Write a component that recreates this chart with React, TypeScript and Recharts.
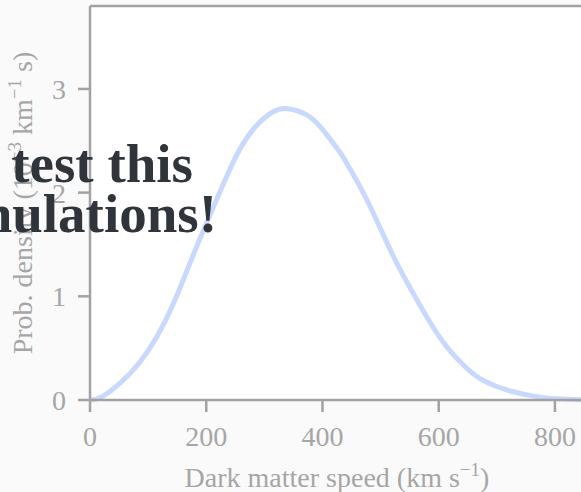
import { LineChart, Line, XAxis, YAxis, CartesianGrid, ReferenceLine } from 'recharts'

// speed in km/s, density in 10^-3 km^-1 s
const speeds = [0, 20, 55, 85, 115, 145, 172, 200, 230, 258, 287, 315, 340, 373, 400, 430, 441, 470, 500, 527, 556, 585, 613, 642, 670, 700, 728, 757, 785, 814, 850]
const density = [0, 0.03, 0.18, 0.36, 0.61, 0.95, 1.32, 1.7, 2.09, 2.42, 2.65, 2.78, 2.81, 2.75, 2.61, 2.39, 2.29, 2.0, 1.65, 1.33, 1.03, 0.75, 0.52, 0.34, 0.21, 0.13, 0.08, 0.045, 0.02, 0.01, 0]

const xTicks = [0, 200, 400, 600, 800]
const yTicks = [0, 1, 2, 3]
const yMax = 3.8

const data = speeds.map((s, i) => ({ speed: s, density: density[i] }))

const axisGray = '#a2a2a2'
const textGray = '#a6a6a6'
const serif = '"Liberation Serif", "Times New Roman", serif'

const XLabel = (props: any) => {
    const { x, y, width } = props.viewBox
    return (
        <text x={x + width / 2} y={y + 87} textAnchor="middle" fontFamily={serif} fontSize={28} fill={textGray}>
            Dark matter speed (km s<tspan dy={-11} fontSize={19}>−1</tspan><tspan dy={11}>)</tspan>
        </text>
    )
}

const YLabel = (props: any) => {
    const { y, height } = props.viewBox
    const cx = 32
    const cy = y + height / 2
    return (
        <text x={cx} y={cy} transform={`rotate(-90 ${cx} ${cy})`} textAnchor="middle" fontFamily={serif} fontSize={28} fill={textGray}>
            Prob. density (10<tspan dy={-11} fontSize={19}>−3</tspan>
            <tspan dy={11}> km</tspan><tspan dy={-11} fontSize={19}>−1</tspan>
            <tspan dy={11}> s)</tspan>
        </text>
    )
}

const App = () => {
    return (
        <div style={{ position: 'fixed', left: 0, top: 0, width: 581, height: 492, overflow: 'hidden', background: '#fafafa' }}>
            <LineChart width={590} height={492} data={data} margin={{ top: 6, right: 6, bottom: 0, left: 0 }}>
                <CartesianGrid horizontal={false} vertical={false} fill="#ffffff" />
                <XAxis
                    dataKey="speed"
                    type="number"
                    domain={[0, 850]}
                    ticks={xTicks}
                    height={92}
                    stroke={axisGray}
                    strokeWidth={2.5}
                    tickSize={12}
                    tickMargin={14}
                    tick={{ fill: textGray, fontSize: 28, fontFamily: serif }}
                    label={<XLabel />}
                />
                <YAxis
                    type="number"
                    domain={[0, yMax]}
                    ticks={yTicks}
                    width={90}
                    stroke={axisGray}
                    strokeWidth={2.5}
                    tickSize={12}
                    tickMargin={12}
                    tick={{ fill: textGray, fontSize: 28, fontFamily: serif }}
                    label={<YLabel />}
                />
                <ReferenceLine y={yMax} stroke={axisGray} strokeWidth={2.5} />
                <Line
                    dataKey="density"
                    type="natural"
                    stroke="#c9d8fd"
                    strokeWidth={5}
                    dot={false}
                    isAnimationActive={false}
                />
            </LineChart>
            <svg width={581} height={492} style={{ position: 'absolute', left: 0, top: 0, pointerEvents: 'none' }}>
                <g fontFamily={serif} fontWeight="bold" fontSize={55} fill="#30353c" textAnchor="end">
                    <text x={193} y={182}>test this</text>
                    <text x={217} y={232}>nulations!</text>
                </g>
            </svg>
        </div>
    )
}

export default App
